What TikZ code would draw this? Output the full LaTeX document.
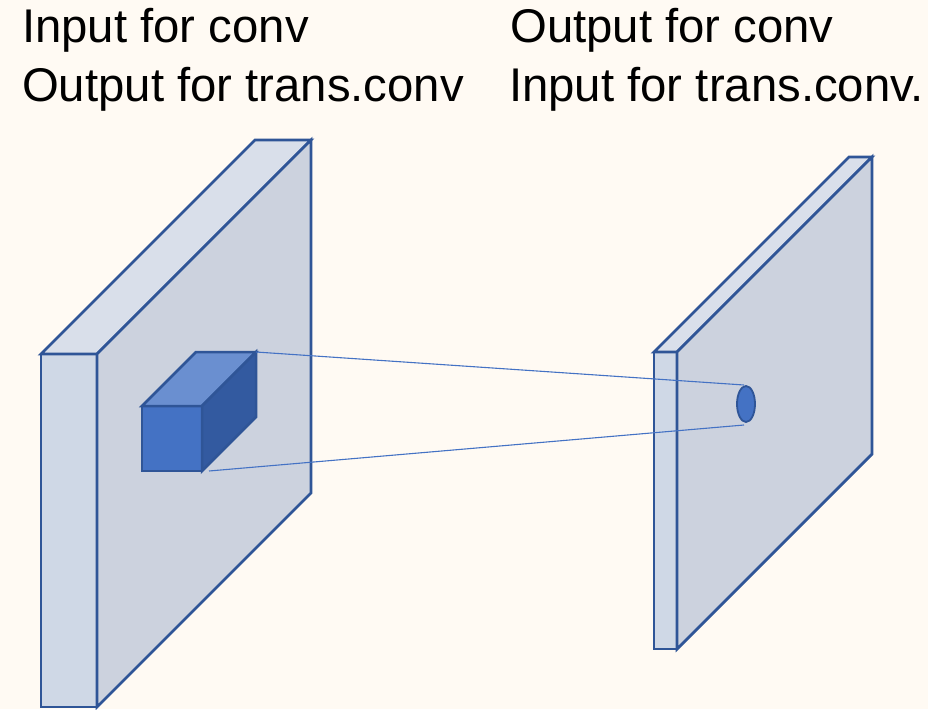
\documentclass[tikz,border=0pt]{standalone}
\usepackage{fontspec}
\setmainfont{Liberation Sans}
\usetikzlibrary{shapes.geometric}

\definecolor{paper}{HTML}{FFFAF3}
\definecolor{edgeblue}{HTML}{2F5597}
\definecolor{rayblue}{HTML}{4472C4}
\definecolor{slabfront}{HTML}{CFD8E6}
\definecolor{slabtop}{HTML}{D9DFEA}
\definecolor{slabside}{HTML}{CCD2DE}
\definecolor{cubefront}{HTML}{4472C4}
\definecolor{cubetop}{HTML}{6A8FD0}
\definecolor{cubeside}{HTML}{335AA0}

\begin{document}
\begin{tikzpicture}[
        x=1pt, y=-1pt,
        face/.style={draw=edgeblue, line width=2.8pt, line join=miter},
        kface/.style={draw=edgeblue, line width=2.5pt, line join=miter},
        ray/.style={draw=rayblue, line width=1.1pt},
        lbl/.style={anchor=base west, inner sep=0pt, font=\fontsize{47.3}{58}\selectfont},
        spot/.style={ellipse, draw=edgeblue, line width=1.8pt, fill=cubefront,
                     minimum width=18pt, minimum height=36pt, inner sep=0pt},
    ]
        \useasboundingbox[fill=paper] (0,0) rectangle (928,709);

        % labels
        \node[lbl] (inConv)    at (22,43)  {Input for conv};
        \node[lbl] (outTrans)  at (22,101) {Output for trans.conv};
        \node[lbl] (outConv)   at (510,43)  {Output for conv};
        \node[lbl] (inTrans)   at (509,101) {Input for trans.conv.};

        % left slab
        \draw[face, fill=slabfront] (41,354) rectangle (97,707);
        \draw[face, fill=slabtop]   (41,354) -- (255,140) -- (311,140) -- (97,354) -- cycle;
        \draw[face, fill=slabside]  (97,354) -- (311,140) -- (311,493) -- (97,707) -- cycle;

        % kernel cube
        \coordinate (cubeTR) at (256,352);
        \coordinate (cubeBR) at (202,471);
        \draw[kface, fill=cubefront] (142,406) rectangle (cubeBR);
        \draw[kface, fill=cubetop]   (142,406) -- (196,352) -- (cubeTR) -- (202,406) -- cycle;
        \draw[kface, fill=cubeside]  (202,406) -- (cubeTR) -- (256,417) -- (cubeBR) -- cycle;

        % right slab
        \draw[face, fill=slabfront] (654,352) rectangle (677,649);
        \draw[face, fill=slabtop]   (654,352) -- (849,157) -- (872,157) -- (677,352) -- cycle;
        \draw[face, fill=slabside]  (677,352) -- (872,157) -- (872,454) -- (677,649) -- cycle;

        % output pixel
        \node[spot] (pix) at (746,404) {};
        \coordinate (pixTop) at (744,385);
        \coordinate (pixBot) at (744,425);

        \draw[ray] (cubeTR) -- (pixTop);
        \draw[ray] ([xshift=7pt]cubeBR) -- (pixBot);
    \end{tikzpicture}
\end{document}
